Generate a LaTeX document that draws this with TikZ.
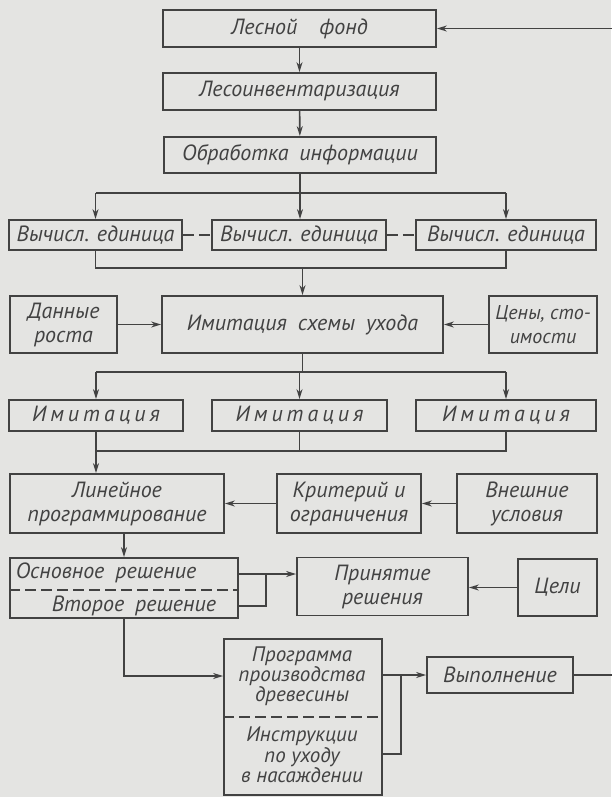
\documentclass[tikz,border=0pt]{standalone}
\usepackage{fontspec}
\setmainfont{PT Sans}
\usetikzlibrary{arrows.meta}
\definecolor{bg}{RGB}{228,228,226}
\definecolor{ink}{RGB}{66,66,66}
\newcommand\lsp{\kern4pt}
\begin{document}
\begin{tikzpicture}[x=1pt,y=-1pt,
 box/.style={draw=ink,line width=1.8pt,inner sep=0pt,align=center,text=ink,font=\itshape\fontsize{22}{24}\selectfont},
 ln/.style={draw=ink,line width=1.6pt},
 arr/.style={ln,-{Stealth[length=10pt,width=6pt]}},
 dsh/.style={draw=ink,line width=1.6pt,dash pattern=on 11pt off 5pt},
 txt/.style={inner sep=0pt,text=ink,font=\itshape\fontsize{22}{24}\selectfont,align=center}]
\fill[bg] (0,0) rectangle (611,797);
\useasboundingbox (0,0) rectangle (611,797);

% rows 1-3
\node[box,minimum width=273,minimum height=37] (lf) at (299.5,28.5) {Лесной\quad фонд};
\node[box,minimum width=273,minimum height=37] (li) at (299.5,91.5) {Лесоинвентаризация};
\node[box,minimum width=272,minimum height=36] (oi) at (300,155) {Обработка\enspace информации};

% computing units
\node[box,minimum width=173,minimum height=30] (v1) at (95.5,235) {Вычисл. единица};
\node[box,minimum width=174,minimum height=30] (v2) at (299,235) {Вычисл. единица};
\node[box,minimum width=180,minimum height=30] (v3) at (506,235) {Вычисл. единица};

% simulation scheme row
\node[box,minimum width=107,minimum height=57] (dr) at (63.5,324.5) {Данные\\роста};
\node[box,minimum width=281,minimum height=57] (ish) at (302.5,324.5) {Имитация\enspace схемы\enspace ухода};
\node[box,minimum width=108,minimum height=57,font=\itshape\fontsize{20}{24}\selectfont] (cs) at (543,324.5) {Цены, сто-\\имости};

% imitation row
\node[box,minimum width=174,minimum height=31] (i1) at (96,415.5) {И\lsp м\lsp и\lsp т\lsp а\lsp ц\lsp и\lsp я};
\node[box,minimum width=175,minimum height=31] (i2) at (299.5,415.5) {И\lsp м\lsp и\lsp т\lsp а\lsp ц\lsp и\lsp я};
\node[box,minimum width=180,minimum height=31] (i3) at (506,415.5) {И\lsp м\lsp и\lsp т\lsp а\lsp ц\lsp и\lsp я};

% LP row
\node[box,minimum width=214,minimum height=59] (lp) at (117,503.5) {Линейное\\программирование};
\node[box,minimum width=144,minimum height=59] (kr) at (349,503.5) {Критерий и\\ограничения};
\node[box,minimum width=140,minimum height=59] (vu) at (527,503.5) {Внешние\\условия};

% decision row
\node[draw=ink,line width=1.8pt,inner sep=0pt,minimum width=228,minimum height=60] (os) at (124,588) {};
\node[txt] (os1) at (106,573) {Основное\enspace решение};
\node[txt] (os2) at (134,606) {Второе\enspace решение};
\draw[dsh] (os.west |- 0,590) -- (os.east |- 0,590);
\node[box,minimum width=171,minimum height=58] (pr) at (382.5,586.5) {Принятие\\решения};
\node[box,minimum width=79,minimum height=57] (ce) at (557.5,587.5) {Цели};

% program row
\node[draw=ink,line width=1.8pt,inner sep=0pt,minimum width=158,minimum height=156] (pg) at (303,717) {};
\node[txt,font=\itshape\fontsize{21}{18.5}\selectfont] (pg1) at (302,676) {Программа\\производства\\древесины};
\node[txt,font=\itshape\fontsize{21}{18.5}\selectfont] (pg2) at (302,755) {Инструкции\\по уходу\\в насаждении};
\draw[dsh] (pg.west |- 0,717) -- (pg.east |- 0,717);
\node[box,minimum width=146,minimum height=36] (vy) at (500,675) {Выполнение};

% connectors
\draw[arr] (lf) -- (li);
\draw[arr] (li) -- (oi);
\coordinate (b1) at (300,193);
\draw[ln] (oi.south) -- (b1);
\draw[ln] (b1 -| v1) -- (b1 -| v3);
\draw[arr] (b1 -| v1) -- (v1.north);
\draw[arr] (b1) -- (b1 |- v2.north);
\draw[arr] (b1 -| v3) -- (v3.north);
\draw[dsh] (v1.east) -- (v2.west);
\draw[dsh] (v2.east) -- (v3.west);

\coordinate (b2) at (302.5,268);
\draw[ln] (v1.south) -- (v1.south |- b2) -- (v3.south |- b2) -- (v3.south);
\draw[arr] (b2) -- (ish.north);
\draw[arr] (dr) -- (ish);
\draw[arr] (cs) -- (ish);

\coordinate (b3) at (302.5,372);
\draw[ln] (ish.south) -- (b3);
\draw[ln] (b3 -| i1) -- (b3 -| i3);
\draw[arr] (b3 -| i1) -- (i1.north);
\draw[arr] (b3 -| i2) -- (i2.north);
\draw[arr] (b3 -| i3) -- (i3.north);

\coordinate (b4) at (299.5,451);
\draw[ln] (i2.south) -- (b4);
\draw[ln] (i3.south) -- (i3.south |- b4) -- (b4 -| i1);
\draw[arr] (i1.south) -- (i1.south |- lp.north);
\draw[arr] (kr) -- (lp);
\draw[arr] (vu) -- (kr);

\draw[arr] (os.north |- lp.south) -- (os.north);
\draw[arr] ([yshift=14pt]os.east) coordinate (o1) -- (o1 -| pr.west);
\coordinate (k1) at (266,574);
\draw[ln] ([yshift=-18pt]os.east) -| (k1);
\draw[arr] (ce.west) -- (ce.west -| pr.east);

\draw[arr] (os.south) |- ([yshift=41pt]pg.west);
\draw[arr] ([yshift=42pt]pg.east) coordinate (p1) -- (p1 -| vy.west);
\coordinate (k2) at (401,675);
\draw[ln] ([yshift=-37pt]pg.east) -| (k2);

\coordinate (fb1) at (618,675);
\coordinate (fb2) at (618,28.5);
\draw[arr] (vy.east) -- (fb1) -- (fb2) -- (lf.east);
\end{tikzpicture}
\end{document}
